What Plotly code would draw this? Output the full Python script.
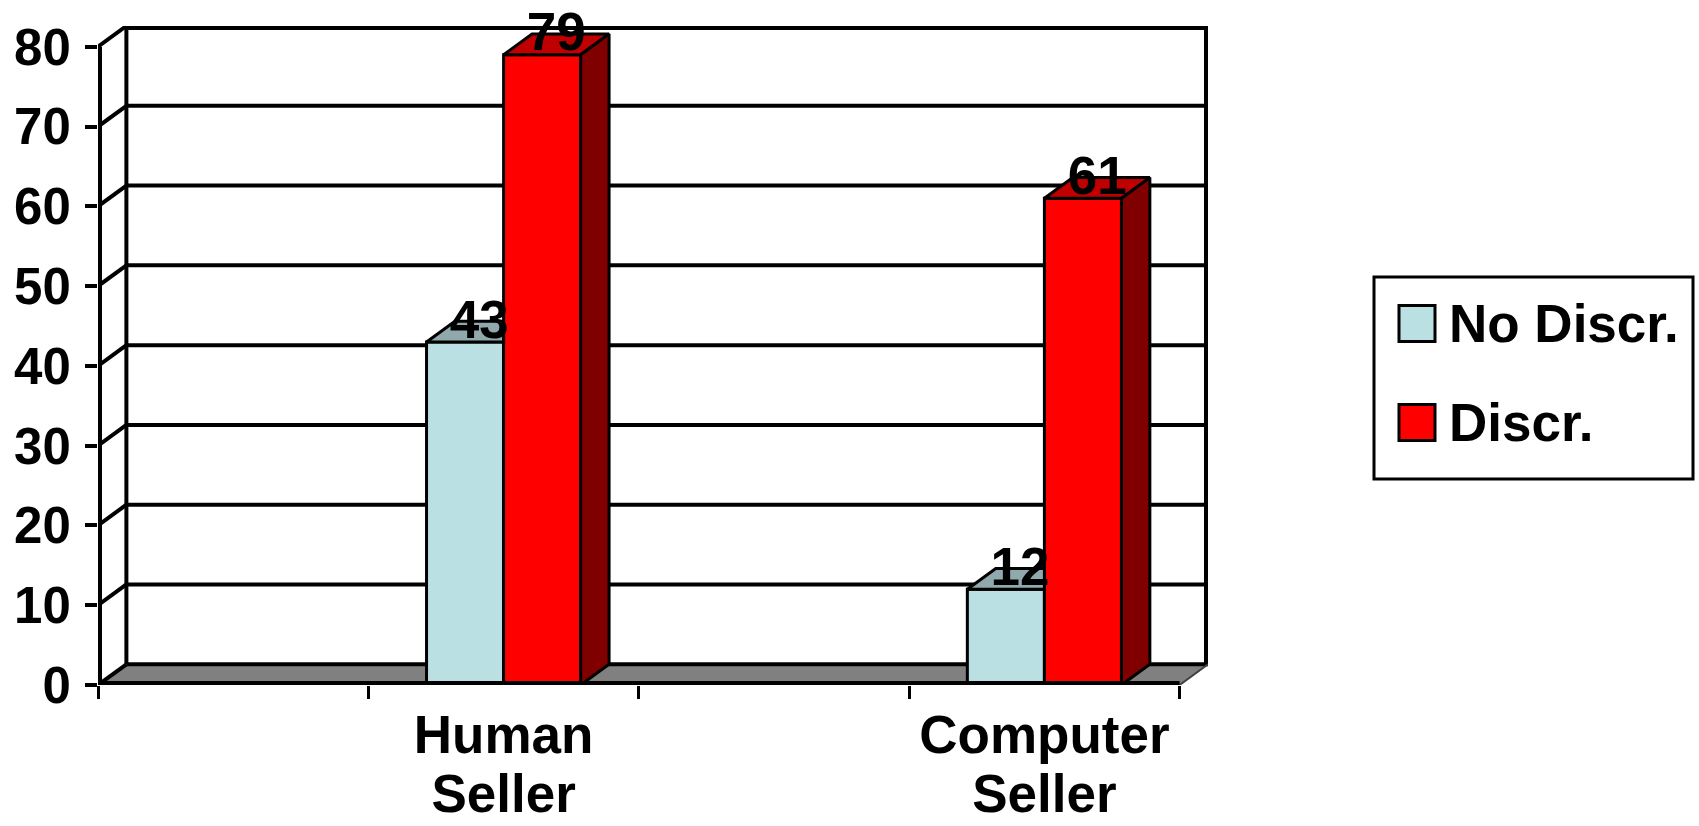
import plotly.graph_objects as go

# ---------------- data ----------------
categories = ["", "Human Seller", "", "Computer Seller"]
series_names = ["No Discr.", "Discr."]
no_discr = [None, 43, None, 12]
discr = [None, 79, None, 61]
y_ticks = [0, 10, 20, 30, 40, 50, 60, 70, 80]

# ---------------- style ----------------
front_colors = ["#BBE0E3", "#FF0000"]
top_colors = ["#8FA9AC", "#C00000"]
side_colors = ["#8FA9AC", "#800000"]
FONT = "Liberation Sans, Arial, sans-serif"
FS = 53
LW = 4

DX = 0.105   # depth offset in category units
DY = 2.6     # depth offset in value units
BW = 0.285   # bar width
offsets = [-BW, 0.0]

xs = list(range(len(categories)))
x_lo, x_hi = -0.5, len(categories) - 0.5
ymax = y_ticks[-1]

# figure geometry
W, H = 1699, 826
ML, MR, MT, MB = 98, 491, 26, 141
PW, PH = W - ML - MR, H - MT - MB

fig = go.Figure()

series = [no_discr, discr]
for i, (name, vals) in enumerate(zip(series_names, series)):
    fig.add_trace(go.Bar(
        x=xs, y=vals, base=0, width=BW, offset=offsets[i], name=name,
        marker=dict(color=front_colors[i], line=dict(color="black", width=3)),
        showlegend=False, hoverinfo="skip"))

# 3D faces (top / side), computed from the data values
for i, vals in enumerate(series):
    tx, ty, sx, sy = [], [], [], []
    last = i == len(series) - 1
    for x, v in zip(xs, vals):
        if v is None:
            continue
        x0 = x + offsets[i]
        x1 = x0 + BW
        if last:
            tx += [x0, x0 + DX, x1 + DX, x1, x0, None]
            ty += [v, v + DY, v + DY, v, v, None]
            sx += [x1, x1, x1 + DX, x1 + DX, x1, None]
            sy += [0, v, v + DY, DY, 0, None]
        else:
            tx += [x0, x0 + DX, x1, x1, x0, None]
            ty += [v, v + DY, v + DY, v, v, None]
    fig.add_trace(go.Scatter(x=tx, y=ty, mode="lines", fill="toself",
                             fillcolor=top_colors[i], line=dict(color="black", width=3),
                             showlegend=False, hoverinfo="skip"))
    if sx:
        fig.add_trace(go.Scatter(x=sx, y=sy, mode="lines", fill="toself",
                                 fillcolor=side_colors[i], line=dict(color="black", width=3),
                                 showlegend=False, hoverinfo="skip"))

# value labels
for i, vals in enumerate(series):
    lx, ly, lt = [], [], []
    for x, v in zip(xs, vals):
        if v is None:
            continue
        lx.append(x + offsets[i] + BW / 2 + DX / 2)
        ly.append(v + 2.2)
        lt.append(str(v))
    fig.add_trace(go.Scatter(x=lx, y=ly, text=lt, mode="text", textposition="middle center",
                             textfont=dict(family=FONT, size=FS, color="black", weight="bold"),
                             cliponaxis=False, showlegend=False, hoverinfo="skip"))

# walls, floor, gridlines
shapes = []
shapes.append(dict(type="path", xref="x", yref="y", layer="below",
                   path=f"M{x_lo},0 L{x_hi},0 L{x_hi + DX},{DY} L{x_lo + DX},{DY} Z",
                   fillcolor="#808080", line=dict(width=0)))
for v in y_ticks:
    w = 2 * LW if v == ymax else LW
    shapes.append(dict(type="line", xref="x", yref="y", layer="below",
                       x0=x_lo + DX, x1=x_hi + DX, y0=v + DY, y1=v + DY,
                       line=dict(color="black", width=w)))
    shapes.append(dict(type="line", xref="x", yref="y", layer="below",
                       x0=x_lo, x1=x_lo + DX, y0=v, y1=v + DY,
                       line=dict(color="black", width=LW)))
shapes.append(dict(type="line", xref="x", yref="y", layer="below",
                   x0=x_lo + DX, x1=x_lo + DX, y0=DY, y1=ymax + DY,
                   line=dict(color="black", width=LW)))
shapes.append(dict(type="line", xref="x", yref="y", layer="below",
                   x0=x_hi + DX, x1=x_hi + DX, y0=DY, y1=ymax + DY,
                   line=dict(color="black", width=2 * LW)))
shapes.append(dict(type="line", xref="x", yref="y", layer="below",
                   x0=x_lo, x1=x_lo, y0=0, y1=ymax,
                   line=dict(color="black", width=2 * LW)))
shapes.append(dict(type="line", xref="x", yref="y", layer="above",
                   x0=x_lo, x1=x_hi, y0=0, y1=0,
                   line=dict(color="black", width=2 * LW)))
shapes.append(dict(type="line", xref="x", yref="y", layer="below",
                   x0=x_hi, x1=x_hi + DX, y0=0, y1=DY,
                   line=dict(color="#404040", width=2)))

# custom legend
def pxx(px):
    return (px - ML) / PW

def pxy(py):
    return (H - MB - py) / PH

shapes.append(dict(type="rect", xref="paper", yref="paper",
                   x0=pxx(1374), x1=pxx(1693), y0=pxy(479), y1=pxy(277),
                   line=dict(color="black", width=3), fillcolor="white"))
annotations = []
row_centers = [323.5, 422.5]
for i, name in enumerate(series_names):
    cy = row_centers[i]
    shapes.append(dict(type="rect", xref="paper", yref="paper",
                       x0=pxx(1399), x1=pxx(1435), y0=pxy(cy + 18), y1=pxy(cy - 18),
                       line=dict(color="black", width=3), fillcolor=front_colors[i]))
    annotations.append(dict(xref="paper", yref="paper", x=pxx(1447), y=pxy(cy),
                            xanchor="left", yanchor="middle", showarrow=False, text=name,
                            font=dict(family=FONT, size=FS, color="black", weight="bold")))

# two-line category labels: first words on xaxis, second words on an overlaid xaxis2
line1 = [c.split(" ")[0] if c else "" for c in categories]
line2 = [" ".join(c.split(" ")[1:]) if c else "" for c in categories]
tickfont = dict(family=FONT, size=FS, color="black", weight="bold")

fig.add_trace(go.Scatter(x=[x_lo], y=[0], xaxis="x2", mode="markers",
                         marker=dict(opacity=0), showlegend=False, hoverinfo="skip"))

fig.update_layout(
    width=W, height=H,
    margin=dict(l=ML, r=MR, t=MT, b=MB, pad=0, autoexpand=False),
    paper_bgcolor="white", plot_bgcolor="white",
    barmode="overlay",
    shapes=shapes, annotations=annotations,
    showlegend=False,
    font=dict(family=FONT, size=FS, color="black", weight="bold"),
    xaxis=dict(range=[x_lo, x_hi + DX], showgrid=False, zeroline=False, showline=False,
               automargin=False,
               tickmode="array", tickvals=xs, ticktext=line1,
               ticks="outside", ticklen=12, tickwidth=3, tickcolor="rgba(0,0,0,0)",
               ticklabelstandoff=-9,
               minor=dict(tickmode="array", tickvals=[x - 0.5 for x in xs] + [x_hi],
                          ticks="outside", ticklen=13, tickwidth=3, tickcolor="black"),
               tickfont=tickfont, fixedrange=True),
    xaxis2=dict(range=[x_lo, x_hi + DX], overlaying="x", anchor="y", side="bottom",
                showgrid=False, zeroline=False, showline=False, automargin=False,
                tickmode="array", tickvals=xs, ticktext=line2,
                ticks="outside", ticklen=12, tickwidth=3, tickcolor="rgba(0,0,0,0)",
                ticklabelstandoff=50, tickfont=tickfont, fixedrange=True),
    yaxis=dict(range=[0, ymax + DY], showgrid=False, zeroline=False, showline=False,
               automargin=False,
               tickmode="array", tickvals=y_ticks,
               ticks="outside", ticklen=12, tickwidth=LW, tickcolor="black",
               ticklabelstandoff=4,
               tickfont=dict(family=FONT, size=51, color="black", weight="bold"),
               fixedrange=True),
)

fig.write_html("out.html")
